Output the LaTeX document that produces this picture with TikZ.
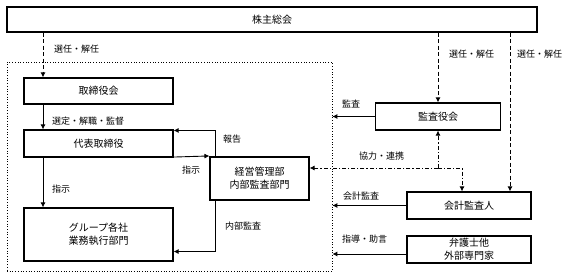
\documentclass[tikz,border=0pt]{standalone}
\usepackage{fontspec}
\setmainfont{Noto Sans CJK JP}
\usetikzlibrary{arrows.meta,calc}
\tikzset{
  box/.style={draw, line width=1.1pt, rectangle, inner sep=0pt, align=center, font=\fontsize{10}{13}\selectfont},
  lbl/.style={anchor=west, inner sep=0pt, font=\fontsize{9}{10}\selectfont},
  arr/.style={line width=0.9pt, -{Latex[length=5pt,width=5pt]}},
  dasharr/.style={arr, line width=1pt, dash pattern=on 4pt off 2.5pt},
  ddarr/.style={arr, dash pattern=on 4pt off 2pt on 1.2pt off 2pt},
  frm/.style={draw, line width=0.7pt, dotted, rectangle, inner sep=0pt}
}
\begin{document}
\begin{tikzpicture}[x=1pt,y=-1pt]
\useasboundingbox (0,0) rectangle (569,278);
% frame
\node[frm, minimum width=325pt, minimum height=209pt] (frame) at (169.5,166.5) {};
% boxes
\node[box, minimum width=530pt, minimum height=25pt] (top) at (272,19.5) {株主総会};
\node[box, minimum width=149pt, minimum height=26pt] (tori) at (98.5,91) {取締役会};
\node[box, minimum width=149pt, minimum height=27pt] (daihyo) at (98.5,143.5) {代表取締役};
\node[box, minimum width=149pt, minimum height=53pt] (group) at (98.5,234.5) {グループ各社\\業務執行部門};
\node[box, minimum width=99pt, minimum height=43pt] (keiei) at (259.5,178.5) {経営管理部\\内部監査部門};
\node[box, minimum width=125pt, minimum height=27pt] (kansa) at (438,116.5) {監査役会};
\node[box, minimum width=124pt, minimum height=27pt] (kaikei) at (469,205.5) {会計監査人};
\node[box, minimum width=124pt, minimum height=27pt] (bengo) at (469,249.5) {弁護士他\\外部専門家};
% helper coordinates
\coordinate (cx) at (43,0);
\coordinate (rx) at (215.5,0);
\coordinate (kx) at (510,0);
\coordinate (jx) at (462,0);
\coordinate (j) at (438,168);
% connectors left
\draw[dasharr] (top.south -| cx) -- (tori.north -| cx);
\draw[arr] (tori.south -| cx) -- (daihyo.north -| cx);
\draw[arr] (daihyo.south -| cx) -- (group.north -| cx);
\draw[arr] (keiei.north -| rx) |- ([yshift=-1pt]daihyo.north east);
\draw[arr] ([yshift=0.5pt]daihyo.south east) -- ([yshift=0.5pt]keiei.north west);
\draw[arr] (keiei.south -| rx) |- ([yshift=10pt]group.south east);
% connectors right
\draw[dasharr] (top.south -| kansa.north) -- (kansa.north);
\draw[dasharr] (top.south -| kx) -- (kaikei.north -| kx);
\draw[arr] (kansa.west) -- (kansa.west -| frame.east);
\draw[ddarr] (j) -- (kansa.south);
\draw[ddarr] (j) -- (j -| keiei.east);
\draw[ddarr] (j) -| (kaikei.north -| jx);
\draw[arr] (kaikei.west) -- (kaikei.west -| frame.east);
\draw[arr] ([yshift=-4.5pt]bengo.west) -- ([yshift=-4.5pt]bengo.west -| frame.east);
% labels
\node[lbl] (l1) at (54,49) {選任・解任};
\node[lbl] (l2) at (52,121) {選定・解職・監督};
\node[lbl] (l3) at (223,139) {報告};
\node[lbl] (l4) at (182,170) {指示};
\node[lbl] (l5) at (52,189) {指示};
\node[lbl] (l6) at (225,226) {内部監査};
\node[lbl] (l7) at (342,104) {監査};
\node[lbl] (l8) at (449,54) {選任・解任};
\node[lbl] (l9) at (517,54) {選任・解任};
\node[lbl] (l10) at (359,156) {協力・連携};
\node[lbl] (l11) at (343,196) {会計監査};
\node[lbl] (l12) at (342,239) {指導・助言};
\end{tikzpicture}
\end{document}
